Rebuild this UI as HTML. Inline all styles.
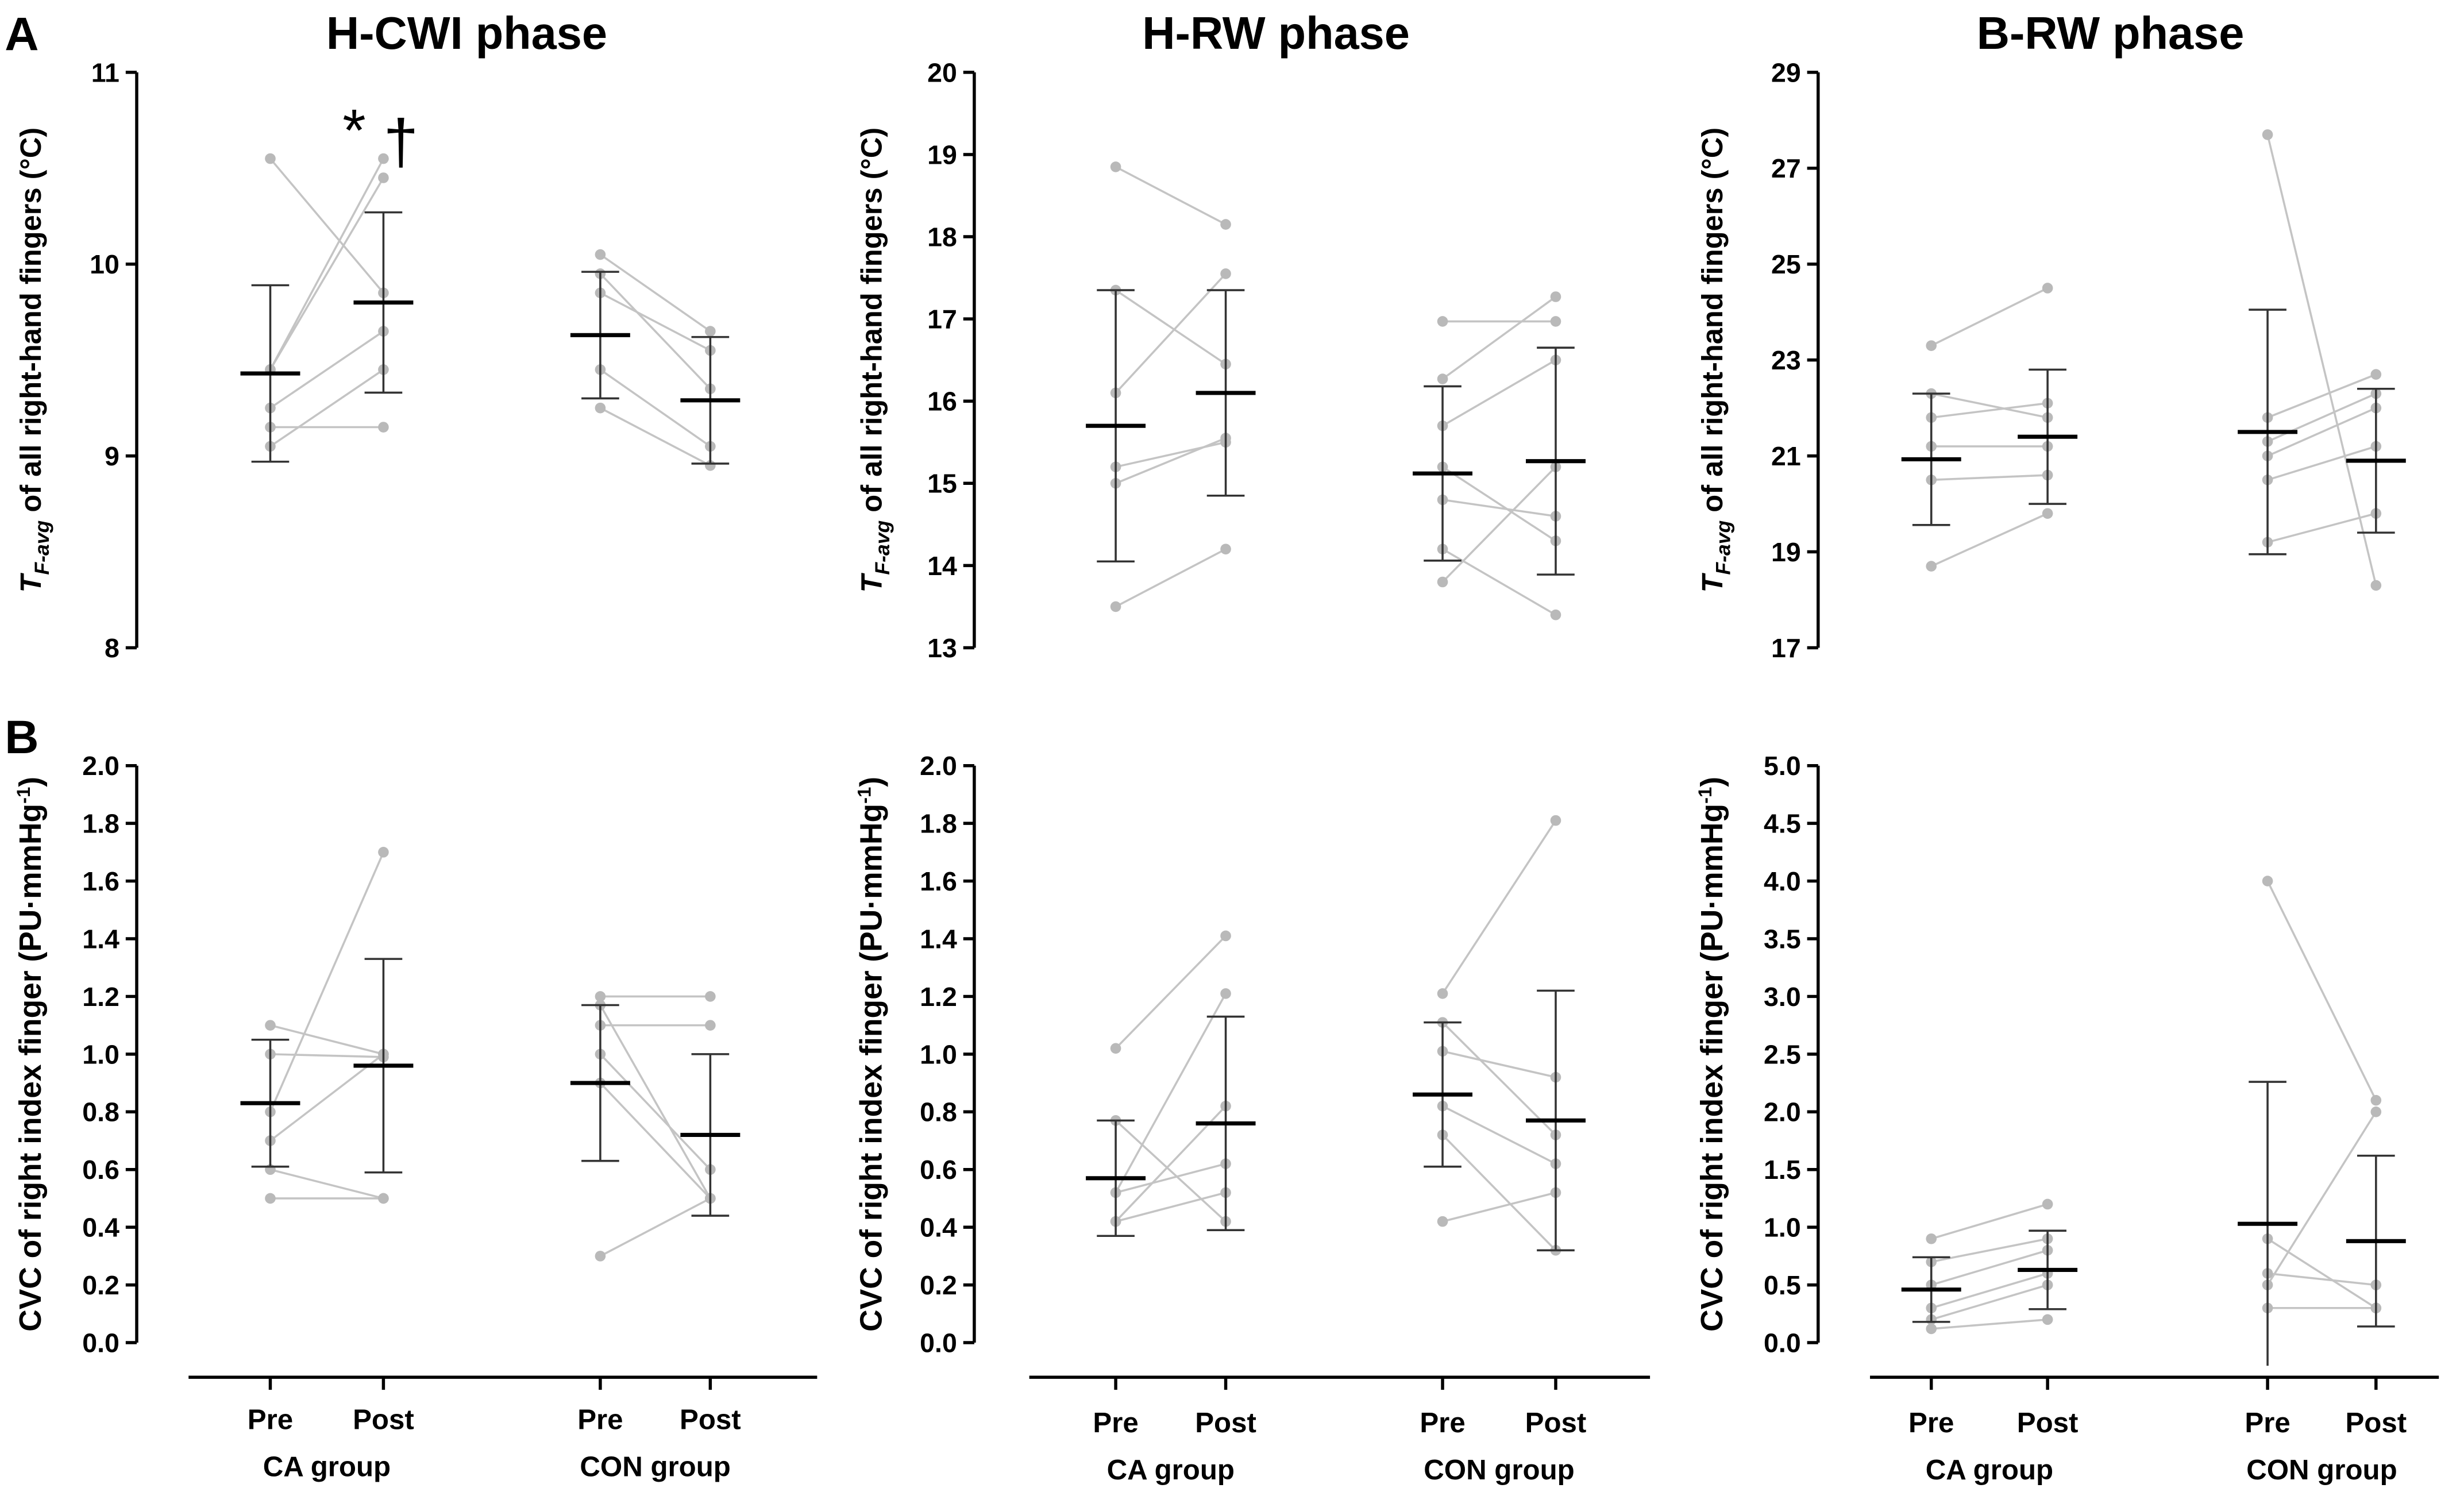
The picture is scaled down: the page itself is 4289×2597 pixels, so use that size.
<!DOCTYPE html>
<html><head><meta charset="utf-8"><style>
html,body{margin:0;padding:0;background:#fff;}
svg{display:block;}
text{font-family:"Liberation Sans",Arial,sans-serif;}
</style></head><body>
<svg id="chart" xmlns="http://www.w3.org/2000/svg" width="4289" height="2597" viewBox="0 0 1568 949" preserveAspectRatio="none">
<text x="3" y="32" font-size="30" font-weight="bold">A</text>
<text x="3" y="479" font-size="30" font-weight="bold">B</text>
<text x="297" y="31" font-size="29" font-weight="bold" text-anchor="middle">H-CWI phase</text>
<text x="812" y="31" font-size="29" font-weight="bold" text-anchor="middle">H-RW phase</text>
<text x="1343" y="31" font-size="29" font-weight="bold" text-anchor="middle">B-RW phase</text>
<text x="218" y="96" font-size="38">*</text>
<text x="244" y="104" font-size="40">†</text>
<g id="plots"></g>
</svg>
<script>
// categories
const groups = ["CA group", "CON group"];
const times = ["Pre", "Post"];
// panel axis ranges
const yMin = [8, 13, 17, 0, 0, 0];
const yMax = [11, 20, 29, 2, 2, 5];
const yStep = [1, 1, 2, 0.2, 0.2, 0.5];
// individual values [panel][group] pre / post (paired)
const pre = [
 [[10.55,9.45,9.45,9.25,9.15,9.05],[10.05,9.95,9.85,9.45,9.25]],
 [[18.85,17.35,16.1,15.2,15.0,13.5],[16.97,16.27,15.7,15.2,14.8,14.2,13.8]],
 [[23.3,22.3,21.8,21.2,20.5,18.7],[27.7,21.8,21.3,21.0,20.5,19.2]],
 [[1.1,1.0,0.8,0.7,0.6,0.5],[1.2,1.17,1.1,1.0,0.9,0.3]],
 [[1.02,0.77,0.52,0.42,0.42,0.52],[1.21,1.11,1.01,0.82,0.72,0.42]],
 [[0.9,0.7,0.5,0.3,0.2,0.12],[4.0,0.9,0.6,0.5,0.3]]
];
const post = [
 [[9.85,10.55,10.45,9.65,9.15,9.45],[9.65,9.35,9.55,9.05,8.95]],
 [[18.15,16.45,17.55,15.5,15.55,14.2],[16.97,17.27,16.5,14.3,14.6,13.4,15.2]],
 [[24.5,21.8,22.1,21.2,20.6,19.8],[18.3,22.7,22.3,22.0,21.2,19.8]],
 [[1.0,0.99,1.7,1.0,0.5,0.5],[1.2,0.5,1.1,0.6,0.5,0.5]],
 [[1.41,0.42,1.21,0.82,0.52,0.62],[1.81,0.72,0.92,0.62,0.32,0.52]],
 [[1.2,0.9,0.8,0.6,0.5,0.2],[2.1,0.3,0.5,2.0,0.3]]
];
// means and SD [panel][group] [pre, post]
const means = [[[9.43,9.80],[9.63,9.29]],[[15.7,16.1],[15.12,15.27]],[[20.93,21.4],[21.5,20.9]],[[0.83,0.96],[0.90,0.72]],[[0.57,0.76],[0.86,0.77]],[[0.46,0.63],[1.03,0.88]]];
const sds = [[[0.46,0.47],[0.33,0.33]],[[1.65,1.25],[1.06,1.38]],[[1.37,1.4],[2.55,1.5]],[[0.22,0.37],[0.27,0.28]],[[0.2,0.37],[0.25,0.45]],[[0.28,0.34],[1.23,0.74]]];

const NS="http://www.w3.org/2000/svg";
const root=document.getElementById('plots');
function mk(tag,attrs,parent){const e=document.createElementNS(NS,tag);for(const k in attrs)e.setAttribute(k,attrs[k]);(parent||root).appendChild(e);return e;}
const axX=[87,620,1157];
const xPos=[[172,244,382,452],[710,780,918,990],[1229,1303,1443,1512]];
const xLine=[[120,520],[655,1050],[1190,1552]];
for(let p=0;p<6;p++){
  const col=p%3,row=Math.floor(p/3);
  const top=46,bot=row?854:412,off=row?441:0;
  const y0=top+off,y1=bot;
  const Y=v=>y1-(v-yMin[p])/(yMax[p]-yMin[p])*(y1-y0);
  const g=mk('g',{});
  
  
  const ax=axX[col];
  const yl=mk('line',{x1:ax,y1:y0,x2:ax,y2:y1,stroke:'#000','stroke-width':2},g);
  
  
  const n=Math.round((yMax[p]-yMin[p])/yStep[p]);
  for(let i=0;i<=n;i++){
    const v=yMin[p]+i*yStep[p],yy=Y(v);
    mk('line',{x1:ax-7,y1:yy,x2:ax,y2:yy,stroke:'#000','stroke-width':2},g);
    const t=mk('text',{x:ax-11,y:yy+6,'font-size':17,'font-weight':'bold','text-anchor':'end'},g);
    t.textContent=row?v.toFixed(1):String(Math.round(v));
    
    
  }
  const tx=[20,555,1090][col]+6, ty=(y0+y1)/2;
  const tt=mk('text',{x:tx,y:ty,'font-size':row?19.5:18.5,'font-weight':'bold','text-anchor':'middle',transform:`rotate(-90 ${tx} ${ty})`},g);
  
  
  if(row){tt.innerHTML='CVC of right index finger (PU·mmHg<tspan dy="-7" font-size="12">-1</tspan><tspan dy="7">)</tspan>';}
  else{tt.innerHTML='<tspan font-style="italic">T</tspan><tspan font-style="italic" font-size="13" dy="5">F-avg</tspan><tspan dy="-5"> of all right-hand fingers (°C)</tspan>';}
  if(row){
    const xl=mk('line',{x1:xLine[col][0],y1:876,x2:xLine[col][1],y2:876,stroke:'#000','stroke-width':2},g);
    
    
    for(let gi=0;gi<2;gi++){
      for(let ti=0;ti<2;ti++){
        const xx=xPos[col][gi*2+ti];
        mk('line',{x1:xx,y1:876,x2:xx,y2:884,stroke:'#000','stroke-width':2},g);
        const t=mk('text',{x:xx,y:col?911:909,'font-size':18,'font-weight':'bold','text-anchor':'middle'},g);
        t.textContent=times[ti];
        
        
      }
      const gx=(xPos[col][gi*2]+xPos[col][gi*2+1])/2;
      const t=mk('text',{x:gx,y:col?941:939,'font-size':18,'font-weight':'bold','text-anchor':'middle'},g);
      t.textContent=groups[gi];
      
      
    }
  }
  for(let gi=0;gi<2;gi++){
    const xa=xPos[col][gi*2],xb=xPos[col][gi*2+1];
    const a=pre[p][gi],b=post[p][gi];
    for(let k=0;k<Math.max(a.length,b.length);k++){
      const va=a[Math.min(k,a.length-1)],vb=b[Math.min(k,b.length-1)];
      const l=mk('line',{x1:xa,y1:Y(va),x2:xb,y2:Y(vb),stroke:'#c4c4c4','stroke-width':1.3},g);
      
      
    }
    a.forEach(v=>{const c=mk('circle',{cx:xa,cy:Y(v),r:3.4,fill:'#b9b9b9'},g);});
    b.forEach(v=>{const c=mk('circle',{cx:xb,cy:Y(v),r:3.4,fill:'#b9b9b9'},g);});
    for(let ti=0;ti<2;ti++){
      const xx=xPos[col][gi*2+ti],m=means[p][gi][ti],s=sds[p][gi][ti];
      const hi=Y(m+s),raw=Y(m-s),lo=row?Math.min(raw,876):raw;
      const eb=mk('line',{x1:xx,y1:hi,x2:xx,y2:lo,stroke:'#333','stroke-width':1.3},g);
      
      
      mk('line',{x1:xx-12,y1:hi,x2:xx+12,y2:hi,stroke:'#333','stroke-width':1.3},g);
      if(!row||raw<=854) mk('line',{x1:xx-12,y1:lo,x2:xx+12,y2:lo,stroke:'#333','stroke-width':1.3},g);
      const ml=mk('line',{x1:xx-19,y1:Y(m),x2:xx+19,y2:Y(m),stroke:'#000','stroke-width':2.6},g);
      
      
    }
  }
}
</script>
</body></html>
